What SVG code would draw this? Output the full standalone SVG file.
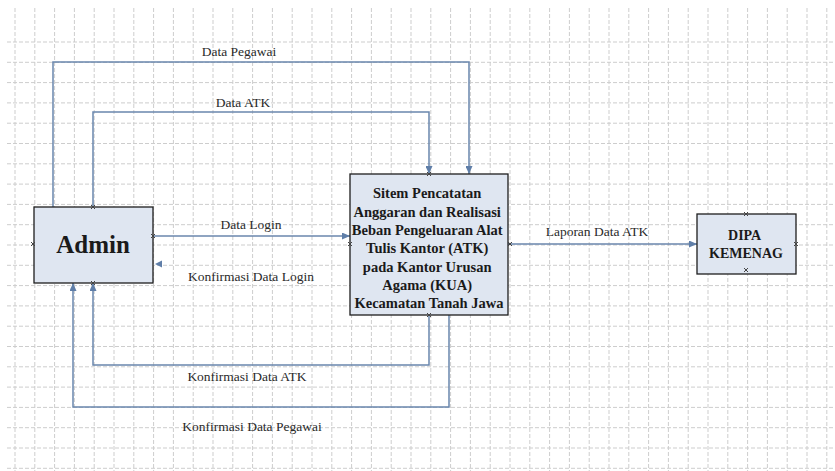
<svg xmlns="http://www.w3.org/2000/svg" width="835" height="471" viewBox="0 0 835 471">
<style>
.grid{fill:none;stroke:#cdcdcd;stroke-width:1;stroke-dasharray:4,2}
.box{fill:#dfe6f1;stroke:#1e1e1e;stroke-width:1.3}
.conn{fill:none;stroke:#6a86ad;stroke-width:1.5}
.lbl{font-family:"Liberation Serif","Times New Roman",serif;font-size:13.5px;fill:#2a2a2a;text-anchor:middle}
.bt{font-family:"Liberation Serif","Times New Roman",serif;font-weight:bold;fill:#1a1a1a;text-anchor:middle}
.cp{stroke:#444;stroke-width:1;fill:none}
</style>
<defs>
<marker id="arr" markerWidth="8" markerHeight="7" refX="8" refY="3.5" orient="auto" markerUnits="userSpaceOnUse">
<path d="M0 0L8 3.5L0 7z" fill="#5f7ea8"/>
</marker>
</defs>
<rect width="835" height="471" fill="#ffffff"/>
<g id="grid">
<path class="grid" d="M15 8V471M34.8 8V471M54.6 8V471M74.4 8V471M94.2 8V471M114 8V471M133.8 8V471M153.6 8V471M173.4 8V471M193.2 8V471M213 8V471M232.8 8V471M252.6 8V471M272.4 8V471M292.2 8V471M312 8V471M331.8 8V471M351.6 8V471M371.4 8V471M391.2 8V471M411 8V471M430.8 8V471M450.6 8V471M470.4 8V471M490.2 8V471M510 8V471M529.8 8V471M549.6 8V471M569.4 8V471M589.2 8V471M609 8V471M628.8 8V471M648.6 8V471M668.4 8V471M688.2 8V471M708 8V471M727.8 8V471M747.6 8V471M767.4 8V471M787.2 8V471M807 8V471M826.8 8V471"/>
<path class="grid" d="M7 42H835M7 62.3H835M7 82.6H835M7 102.9H835M7 123.2H835M7 143.5H835M7 163.8H835M7 184.1H835M7 204.4H835M7 224.7H835M7 245H835M7 265.3H835M7 285.6H835M7 305.9H835M7 326.2H835M7 346.5H835M7 366.8H835M7 387.1H835M7 407.4H835M7 427.7H835M7 448H835M7 468.3H835"/>
</g>
<g id="connectors">
<path class="conn" d="M53 207V62H469V174" marker-end="url(#arr)"/>
<path class="conn" d="M93 207V112H429V174" marker-end="url(#arr)"/>
<path class="conn" d="M153 236H350" marker-end="url(#arr)"/>
<path d="M155 264L162 260.5L162 267.5z" fill="#5f7ea8"/>
<path class="conn" d="M508 244H697" marker-end="url(#arr)"/>
<path class="conn" d="M429 315V365H93V283" marker-end="url(#arr)"/>
<path class="conn" d="M449 315V407H73V283" marker-end="url(#arr)"/>
<text class="lbl" x="239" y="56">Data Pegawai</text>
<text class="lbl" x="243" y="107">Data ATK</text>
<text class="lbl" x="251" y="229">Data Login</text>
<text class="lbl" x="251" y="281">Konfirmasi Data Login</text>
<text class="lbl" x="597" y="236">Laporan Data ATK</text>
<text class="lbl" x="247" y="381">Konfirmasi Data ATK</text>
<text class="lbl" x="252" y="431">Konfirmasi Data Pegawai</text>
</g>
<g id="admin">
<rect class="box" x="34" y="207" width="119" height="76"/>
<text class="bt" x="93" y="253" font-size="25">Admin</text>
<path class="cp" d="M31 242l4 4M35 242l-4 4M91 205l4 4M95 205l-4 4M91 281l4 4M95 281l-4 4M151 234l4 4M155 234l-4 4"/>
</g>
<g id="sistem">
<rect class="box" x="350" y="174" width="158" height="141"/>
<text class="bt" font-size="14.5">
<tspan x="429" y="198">Sitem Pencatatan</tspan>
<tspan x="429" y="217">Anggaran dan Realisasi</tspan>
<tspan x="429" y="235">Beban Pengeluaran Alat</tspan>
<tspan x="429" y="253">Tulis Kantor (ATK)</tspan>
<tspan x="429" y="272">pada Kantor Urusan</tspan>
<tspan x="429" y="290">Agama (KUA)</tspan>
<tspan x="429" y="308">Kecamatan Tanah Jawa</tspan>
</text>
<path class="cp" d="M427 172l4 4M431 172l-4 4M427 313l4 4M431 313l-4 4M348 242l4 4M352 242l-4 4M508 242l4 4M512 242l-4 4"/>
</g>
<g id="dipa">
<rect class="box" x="697" y="214" width="99" height="60"/>
<text class="bt" font-size="14">
<tspan x="746" y="240">DIPA</tspan>
<tspan x="746" y="258">KEMENAG</tspan>
</text>
<path class="cp" d="M744 212l4 4M748 212l-4 4M744 268l4 4M748 268l-4 4M794 242l4 4M798 242l-4 4"/>
</g>
</svg>
